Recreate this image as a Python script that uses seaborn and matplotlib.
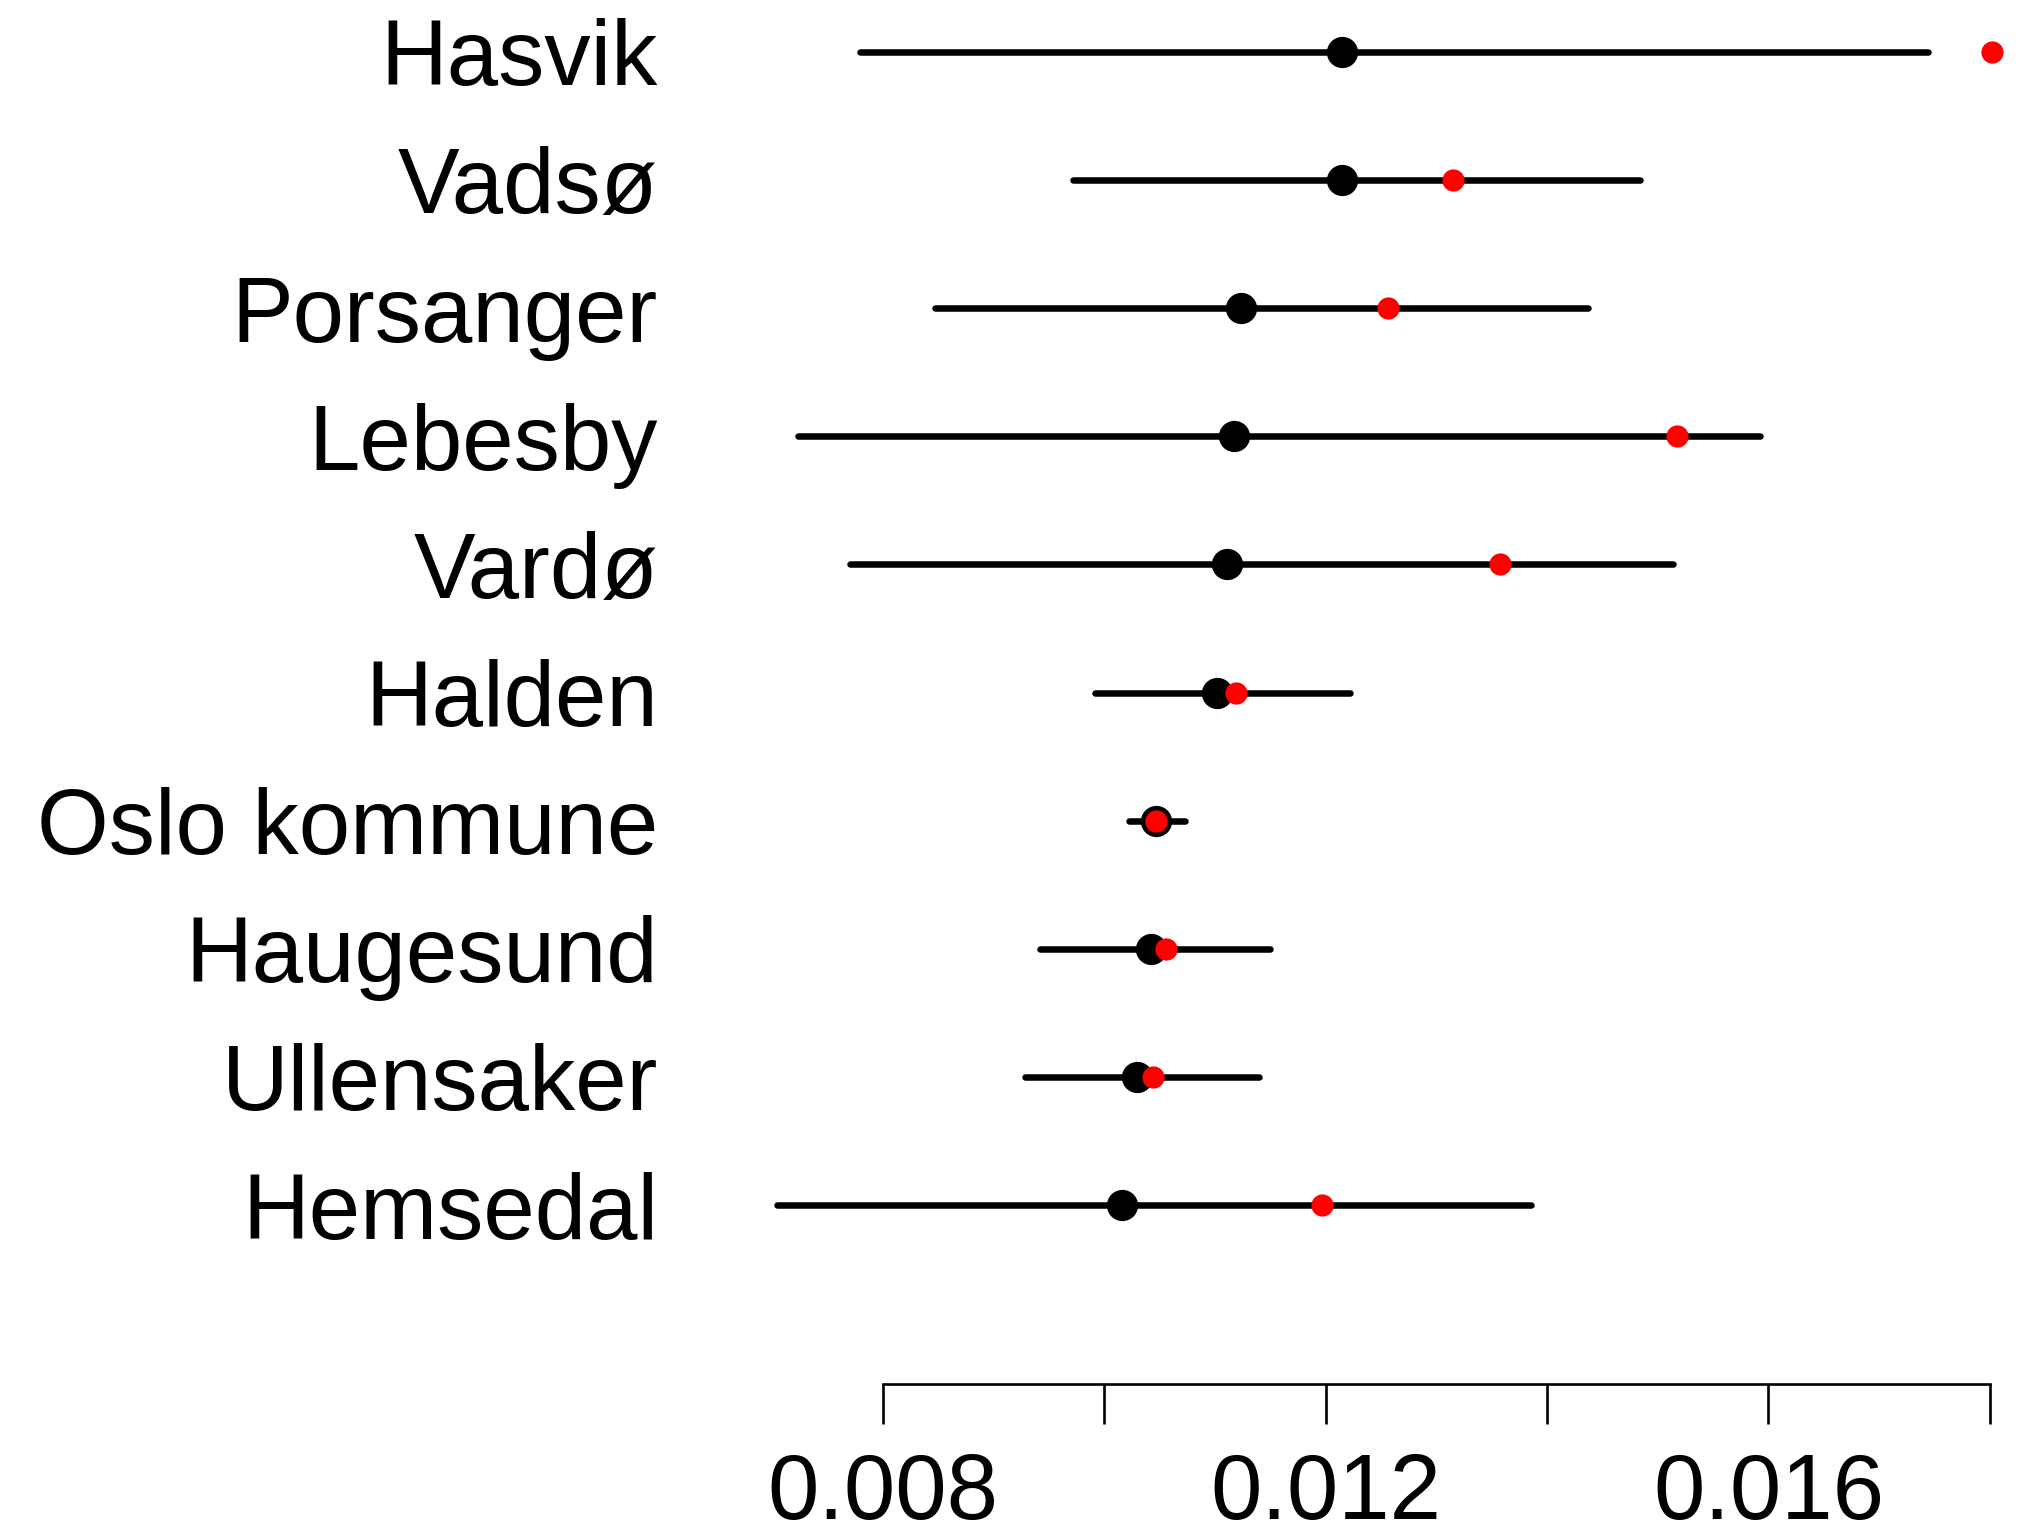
import matplotlib
matplotlib.use("Agg")
import matplotlib.pyplot as plt
import seaborn as sns
import pandas as pd

# Municipalities, top to bottom
kommuner = ["Hasvik", "Vadsø", "Porsanger", "Lebesby", "Vardø",
            "Halden", "Oslo kommune", "Haugesund", "Ullensaker", "Hemsedal"]

# Interval bounds, posterior estimate (black) and raw rate (red)
lower = [0.00779, 0.00972, 0.00847, 0.00723, 0.00770,
         0.00991, 0.01022, 0.00942, 0.00928, 0.00704]
upper = [0.01744, 0.01484, 0.01437, 0.01592, 0.01514,
         0.01222, 0.01073, 0.01150, 0.01140, 0.01385]
estimate = [0.01215, 0.01215, 0.01123, 0.01117, 0.01111,
            0.01102, 0.01047, 0.01042, 0.01029, 0.01016]
observed = [0.01802, 0.01315, 0.01256, 0.01517, 0.01357,
            0.01119, 0.01047, 0.01056, 0.01044, 0.01197]

x_ticks = [0.008, 0.010, 0.012, 0.014, 0.016, 0.018]
x_ticklabels = ["0.008", "", "0.012", "", "0.016", ""]

sns.set_theme(style="white")
plt.rcParams["font.family"] = ["Liberation Sans", "DejaVu Sans"]
plt.rcParams["text.color"] = "black"
plt.rcParams["xtick.color"] = "black"
plt.rcParams["ytick.color"] = "black"

n = len(kommuner)
df = pd.DataFrame({
    "kommune": kommuner,
    "pos": [n - 1 - i for i in range(n)],
    "lower": lower,
    "upper": upper,
    "estimate": estimate,
    "observed": observed,
})

fig = plt.figure(figsize=(20.3, 15.3), dpi=100)
ax = fig.add_axes([0.370, 0.0956, 0.630, 0.9044])

ax.hlines(df["pos"], df["lower"], df["upper"], color="black",
          linewidth=4.7, capstyle="round", zorder=1)
sns.scatterplot(data=df, x="estimate", y="pos", ax=ax, color="black",
                s=22.5 ** 2, linewidth=0, zorder=2)
sns.scatterplot(data=df, x="observed", y="pos", ax=ax, color="#ff0000",
                s=16 ** 2, linewidth=0, zorder=3)

ax.set_xlim(0.006807, 0.018363)
ax.set_ylim(-1.394, n - 1 + 0.404)

ax.set_yticks(df["pos"])
ax.set_yticklabels(df["kommune"], fontsize=66.5, color="black")
ax.tick_params(axis="y", length=0, pad=67)

ax.set_xticks(x_ticks)
ax.set_xticklabels(x_ticklabels, fontsize=66.5, color="black")
ax.tick_params(axis="x", length=29, width=1.9, pad=20, direction="out",
               bottom=True, color="black")

for side in ["top", "right", "left"]:
    ax.spines[side].set_visible(False)
ax.spines["bottom"].set_bounds(0.008, 0.018)
ax.spines["bottom"].set_linewidth(1.9)
ax.spines["bottom"].set_color("black")

ax.set_xlabel("")
ax.set_ylabel("")
ax.grid(False)

fig.savefig("out.png", dpi=100, facecolor="white")
